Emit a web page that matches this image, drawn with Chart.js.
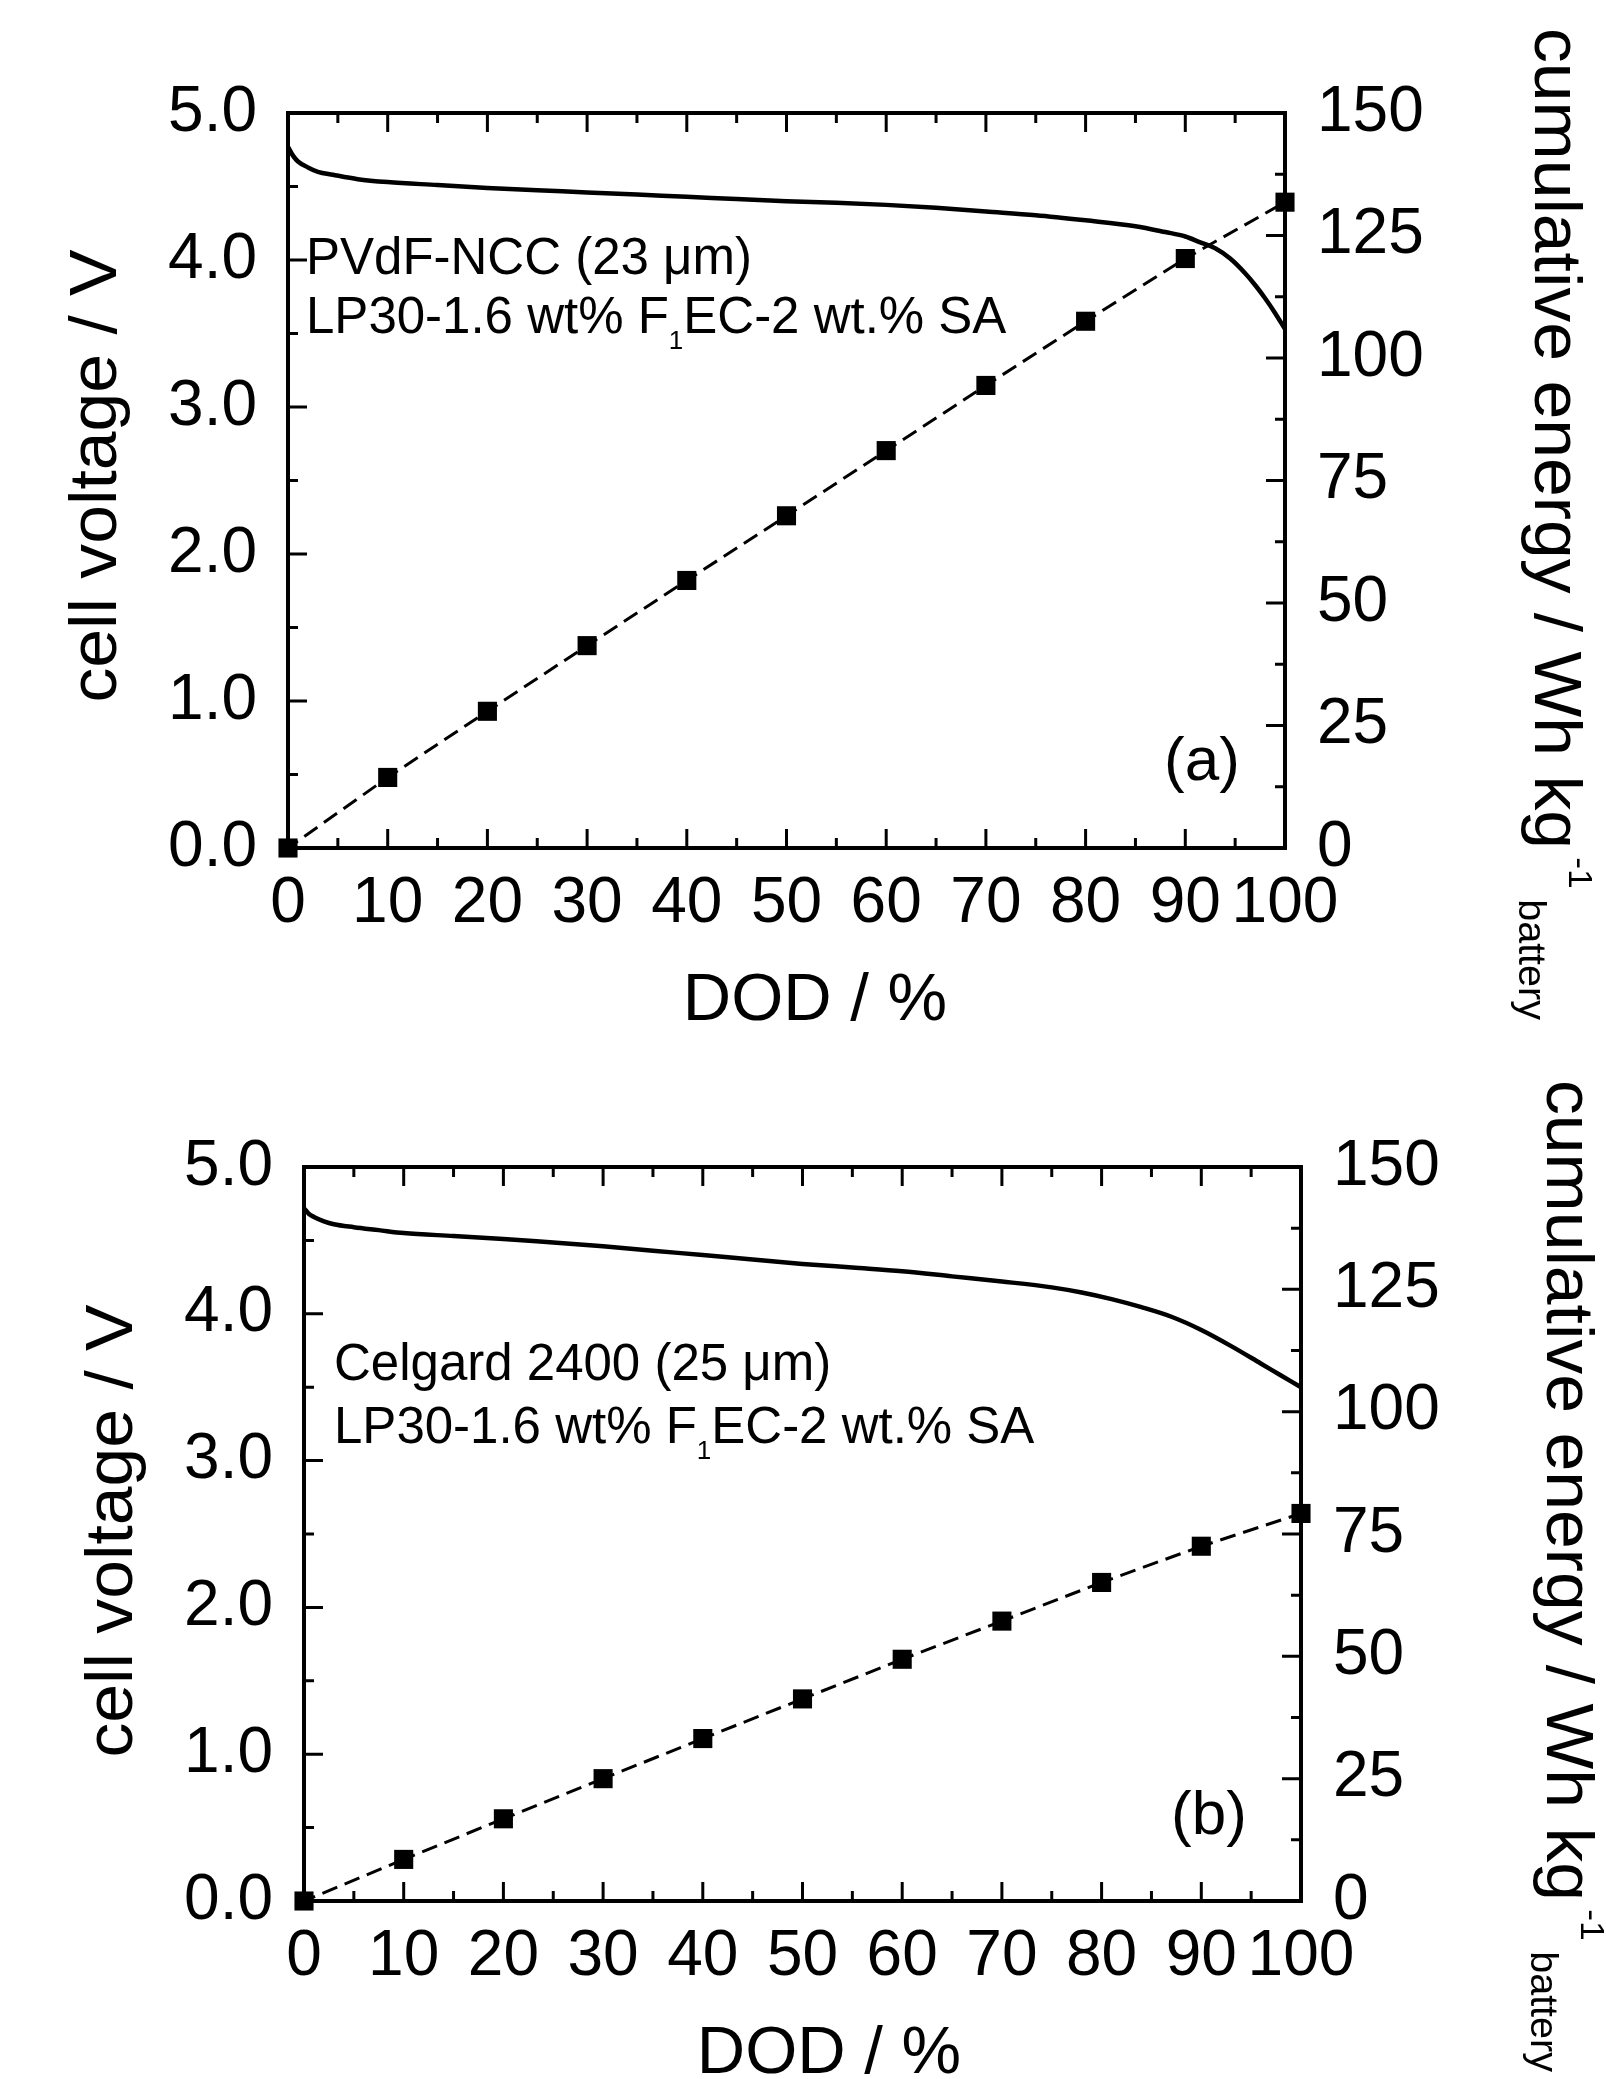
<!DOCTYPE html>
<html>
<head>
<meta charset="utf-8">
<script src="https://cdn.jsdelivr.net/npm/chart.js@4.4.0/dist/chart.umd.min.js"></script>
<style>
  html, body { margin: 0; padding: 0; background: #fff; }
  #wrap { position: relative; width: 1606px; height: 2079px; }
  canvas { position: absolute; left: 0; }
</style>
</head>
<body>
<div id="wrap">
  <canvas id="chart_a" width="1606" height="1050" style="top:0px"></canvas>
  <canvas id="chart_b" width="1606" height="1029" style="top:1050px"></canvas>
</div>
<script>
// discharge curve (a) PVdF-NCC
var dod_a = [0, 0.5, 1, 2, 3, 4.5, 7, 10, 15, 20, 25, 30, 35, 40, 45, 50, 55, 60, 65, 70, 75, 80, 85, 88, 90, 91.5, 93, 94.5, 96, 97, 98, 99, 100];
var volt_a = [4.77, 4.71, 4.67, 4.63, 4.60, 4.58, 4.55, 4.53, 4.51, 4.49, 4.475, 4.46, 4.445, 4.43, 4.415, 4.40, 4.39, 4.375, 4.355, 4.33, 4.305, 4.27, 4.23, 4.19, 4.16, 4.12, 4.08, 4.01, 3.91, 3.83, 3.74, 3.64, 3.53];
// discharge curve (b) Celgard 2400
var dod_b = [0, 0.5, 1, 2, 3, 5, 7.5, 10, 15, 20, 25, 30, 35, 40, 45, 50, 55, 60, 65, 70, 75, 78, 81, 84, 87, 90, 93, 96, 98, 100];
var volt_b = [4.72, 4.68, 4.66, 4.63, 4.61, 4.59, 4.57, 4.55, 4.53, 4.51, 4.485, 4.46, 4.43, 4.40, 4.37, 4.34, 4.315, 4.29, 4.255, 4.22, 4.18, 4.145, 4.10, 4.045, 3.98, 3.89, 3.78, 3.66, 3.58, 3.50];
// cumulative energy (Wh/kg battery) every 10 % DOD
var energy_dod = [0, 10, 20, 30, 40, 50, 60, 70, 80, 90, 100];
var energy_a = [0, 14.4, 27.9, 41.3, 54.6, 67.8, 81.1, 94.4, 107.5, 120.3, 131.8];
var energy_b = [0, 8.5, 16.8, 25.0, 33.2, 41.3, 49.4, 57.2, 65.1, 72.5, 79.2];
// axis ticks
var dod_ticks = [0, 10, 20, 30, 40, 50, 60, 70, 80, 90, 100];
var volt_ticks = [0, 1, 2, 3, 4, 5];
var energy_ticks = [0, 25, 50, 75, 100, 125, 150];

var FONT = "'Liberation Sans', Arial, Helvetica, sans-serif";

function pts(xs, ys) {
  var out = [];
  for (var i = 0; i < xs.length; i++) {
    out.push({x: xs[i], y: ys[i]});
  }
  return out;
}

// major ticks plus a short one halfway between
function tick_marks(major) {
  var out = [];
  for (var i = 0; i < major.length; i++) {
    out.push({v: major[i], len: 19});
    if (i < major.length - 1) out.push({v: (major[i] + major[i + 1]) / 2, len: 10});
  }
  return out;
}

function set_ticks(list) {
  return function(scale) {
    scale.ticks = list.map(function(v) { return {value: v}; });
  };
}

var frame_plugin = {
  id: 'frame',
  beforeDatasetsDraw: function(chart) {
    var ctx = chart.ctx, a = chart.chartArea, s = chart.scales;
    ctx.save();
    ctx.strokeStyle = '#000';
    ctx.lineWidth = 4;
    ctx.strokeRect(a.left, a.top, a.right - a.left, a.bottom - a.top);
    ctx.lineWidth = 3;
    ctx.beginPath();
    tick_marks(dod_ticks).forEach(function(t) {
      var x = s.x.getPixelForValue(t.v);
      ctx.moveTo(x, a.bottom); ctx.lineTo(x, a.bottom - t.len);
      ctx.moveTo(x, a.top); ctx.lineTo(x, a.top + t.len);
    });
    tick_marks(volt_ticks).forEach(function(t) {
      var y = s.y.getPixelForValue(t.v);
      ctx.moveTo(a.left, y); ctx.lineTo(a.left + t.len, y);
    });
    tick_marks(energy_ticks).forEach(function(t) {
      var y = s.y2.getPixelForValue(t.v);
      ctx.moveTo(a.right, y); ctx.lineTo(a.right - t.len, y);
    });
    ctx.stroke();
    ctx.restore();
  }
};

var text_plugin = {
  id: 'texts',
  afterDraw: function(chart, args, o) {
    var ctx = chart.ctx;
    ctx.save();
    ctx.fillStyle = '#000';
    ctx.textBaseline = 'alphabetic';

    // bottom title
    ctx.font = '67px ' + FONT;
    ctx.textAlign = 'center';
    ctx.fillText('DOD / %', o.xTitle[0], o.xTitle[1]);

    // left title
    ctx.save();
    ctx.translate(o.yTitle[0], o.yTitle[1]);
    ctx.rotate(-Math.PI / 2);
    ctx.scale(1.04, 1);
    ctx.fillText('cell voltage / V', 0, 0);
    ctx.restore();

    // right title with super/subscript
    ctx.save();
    ctx.translate(o.y2Title[0], o.y2Title[1]);
    ctx.rotate(Math.PI / 2);
    ctx.scale(1.04, 1);
    ctx.textAlign = 'left';
    var main = 'cumulative energy / Wh kg';
    ctx.fillText(main, 0, 0);
    var w = ctx.measureText(main).width + 8;
    ctx.font = '34px ' + FONT;
    ctx.fillText('-1', w, -34);
    w += ctx.measureText('-1').width + 10;
    ctx.font = '38px ' + FONT;
    ctx.fillText('battery', w, 16);
    ctx.restore();

    // sample description
    ctx.textAlign = 'left';
    ctx.font = '51px ' + FONT;
    ctx.fillText(o.sep, o.note[0], o.note[1]);
    var x = o.note[0], y = o.note[1] + o.gap;
    var part1 = 'LP30-1.6 wt% F';
    ctx.fillText(part1, x, y);
    x += ctx.measureText(part1).width;
    ctx.font = '26px ' + FONT;
    ctx.fillText('1', x, y + 16);
    x += ctx.measureText('1').width;
    ctx.font = '51px ' + FONT;
    ctx.fillText('EC-2 wt.% SA', x, y);

    // panel letter
    ctx.font = '62px ' + FONT;
    ctx.textAlign = 'center';
    ctx.fillText(o.letter, o.letterPos[0], o.letterPos[1]);
    ctx.restore();
  }
};

function make_chart(id, dod, volt, energy, area, notes) {
  var canvas = document.getElementById(id);
  var W = canvas.width, H = canvas.height;
  var tickFont = {family: FONT, size: 64};
  return new Chart(canvas, {
    type: 'line',
    data: {
      datasets: [
        {
          data: pts(dod, volt),
          yAxisID: 'y',
          borderColor: '#000',
          borderWidth: 4.5,
          pointRadius: 0,
          cubicInterpolationMode: 'monotone',
          clip: false
        },
        {
          data: pts(energy_dod, energy),
          yAxisID: 'y2',
          borderColor: '#000',
          borderWidth: 3,
          borderDash: [12, 8, 16, 8, 16, 8, 16, 8, 16, 8, 16, 8, 16, 60],
          segment: {
            borderDashOffset: function(c) { return (c.p0DataIndex % 2) * 0.001; }
          },
          pointStyle: 'rect',
          pointRadius: 13.5,
          pointBorderWidth: 0,
          pointBackgroundColor: '#000',
          clip: false
        }
      ]
    },
    options: {
      responsive: false,
      animation: false,
      layout: {padding: {top: area.top, left: 0, right: 0, bottom: 0}},
      plugins: {
        legend: {display: false},
        tooltip: {enabled: false},
        texts: notes
      },
      scales: {
        x: {
          type: 'linear',
          position: 'bottom',
          min: 0,
          max: 100,
          afterBuildTicks: set_ticks(dod_ticks),
          afterFit: function(s) { s.height = H - area.bottom; },
          grid: {display: false},
          border: {display: false},
          ticks: {font: tickFont, color: '#000', padding: 10, maxRotation: 0, autoSkip: false}
        },
        y: {
          type: 'linear',
          position: 'left',
          min: 0,
          max: 5,
          afterBuildTicks: set_ticks(volt_ticks),
          afterFit: function(s) { s.width = area.left; },
          grid: {display: false},
          border: {display: false},
          ticks: {
            font: tickFont, color: '#000', padding: 23,
            callback: function(v) { return v.toFixed(1); }
          }
        },
        y2: {
          type: 'linear',
          position: 'right',
          min: 0,
          max: 150,
          afterBuildTicks: set_ticks(energy_ticks),
          afterFit: function(s) { s.width = W - area.right; },
          grid: {display: false},
          border: {display: false},
          ticks: {font: tickFont, color: '#000', padding: 24}
        }
      }
    },
    plugins: [frame_plugin, text_plugin]
  });
}

make_chart('chart_a', dod_a, volt_a, energy_a,
  {left: 288, right: 1285, top: 113, bottom: 848},
  {
    xTitle: [815, 1020], yTitle: [116, 476], y2Title: [1535, 28],
    sep: 'PVdF-NCC (23 \u03bcm)', note: [306, 274], gap: 59,
    letter: '(a)', letterPos: [1202, 780]
  });

make_chart('chart_b', dod_b, volt_b, energy_b,
  {left: 304, right: 1301, top: 117, bottom: 851},
  {
    xTitle: [829, 1023], yTitle: [132, 481], y2Title: [1547, 30],
    sep: 'Celgard 2400 (25 \u03bcm)', note: [334, 330], gap: 63,
    letter: '(b)', letterPos: [1209, 784]
  });
</script>
</body>
</html>
